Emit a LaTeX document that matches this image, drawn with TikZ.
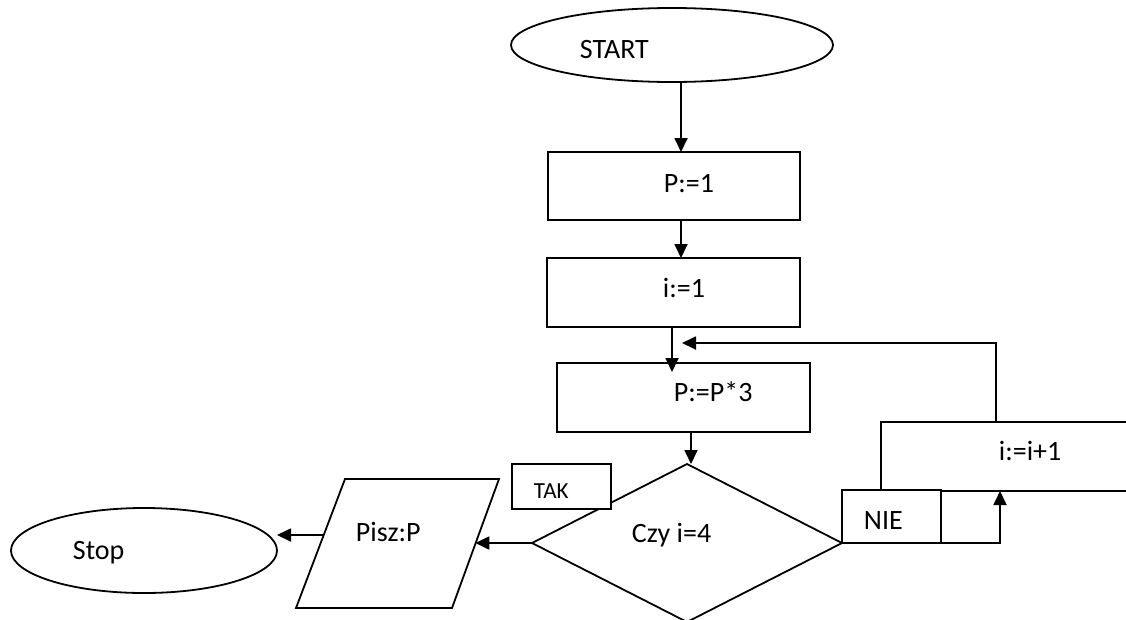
\documentclass[tikz,border=0pt]{standalone}
\usepackage{fontspec}
\setmainfont{Carlito}
\usetikzlibrary{shapes.geometric,arrows.meta,calc}
\begin{document}
\begin{tikzpicture}[x=1pt,y=-1pt,
  line width=1.8pt,
  shapebox/.style={draw, line width=1.8pt, inner sep=0pt, outer sep=0pt, fill=white},
  rectbox/.style={shapebox, rectangle},
  ovalbox/.style={shapebox, ellipse},
  txt/.style={inner sep=0pt, anchor=base west, font=\fontsize{28}{32}\selectfont},
  smalltxt/.style={txt, font=\fontsize{23}{26}\selectfont},
  arr/.style={-{Triangle[length=14pt,width=13pt]}, line width=1.8pt},
]
\useasboundingbox (0,0) rectangle (1126,619);
\clip (0,0) rectangle (1126,619);

% shapes
\node[ovalbox, minimum width=322pt, minimum height=74pt] (start) at (672,45) {};
\node[rectbox, minimum width=252pt, minimum height=68pt] (p1) at (674,186) {};
\node[rectbox, minimum width=253pt, minimum height=69pt] (i1) at (673.5,292.5) {};
\node[rectbox, minimum width=253pt, minimum height=69pt] (p3) at (683.5,397.5) {};
\node[shapebox, diamond, minimum width=310pt, minimum height=158pt] (dia) at (687,543) {};
\node[rectbox, minimum width=99pt, minimum height=45pt] (tak) at (561.5,486.5) {};
\node[rectbox, minimum width=259pt, minimum height=69pt] (inc) at (1010.5,456.5) {};
\node[rectbox, minimum width=99pt, minimum height=53pt] (nie) at (891.5,516.5) {};
\node[ovalbox, minimum width=266pt, minimum height=85pt] (stop) at (144,550.5) {};

% parallelogram (output)
\coordinate (pa) at (345,479);
\coordinate (pb) at (499,479);
\coordinate (pc) at (452,608);
\coordinate (pd) at (296,608);
\draw[fill=white] (pa) -- (pb) -- (pc) -- (pd) -- cycle;
\coordinate (pR) at (475.3,543);
\coordinate (pL) at (323.7,535);

% connectors
\draw[arr] ([xshift=9pt]start.south) -- ([xshift=7pt]p1.north);
\draw[arr] ([xshift=7pt]p1.south) -- ([xshift=7.5pt]i1.north);
\draw[arr] ([xshift=-1.5pt]i1.south) -- ([xshift=-11.5pt,yshift=-9pt]p3.north);
\draw[arr] ([xshift=7.5pt]p3.south) -- ([xshift=4pt]dia.north);
\coordinate (fb) at (682,343);
\draw[arr] ([xshift=-14.5pt]inc.north) |- (fb);
\draw[arr] (nie.south east) -| ([xshift=-10.5pt]inc.south);
\draw[arr] (dia.west) -- (dia.west -| pR);
\draw[arr] (pL) -- (pL -| stop.east);

% texts
\node[txt] (tstart) at (579,58) {START};
\node[txt] (tp1) at (663,192) {P:=1};
\node[txt] (ti1) at (662,297) {i:=1};
\node[txt] (tp3) at (673,401.7) {P:=P*3};
\node[txt] (tdia) at (631,542.7) {Czy i=4};
\node[smalltxt] (ttak) at (533,498) {TAK};
\node[txt] (tnie) at (863,529) {NIE};
\node[txt] (tinc) at (998,460.7) {i:=i+1};
\node[txt] (tpisz) at (355,541) {Pisz:P};
\node[txt] (tstop) at (72,559) {Stop};
\end{tikzpicture}
\end{document}
